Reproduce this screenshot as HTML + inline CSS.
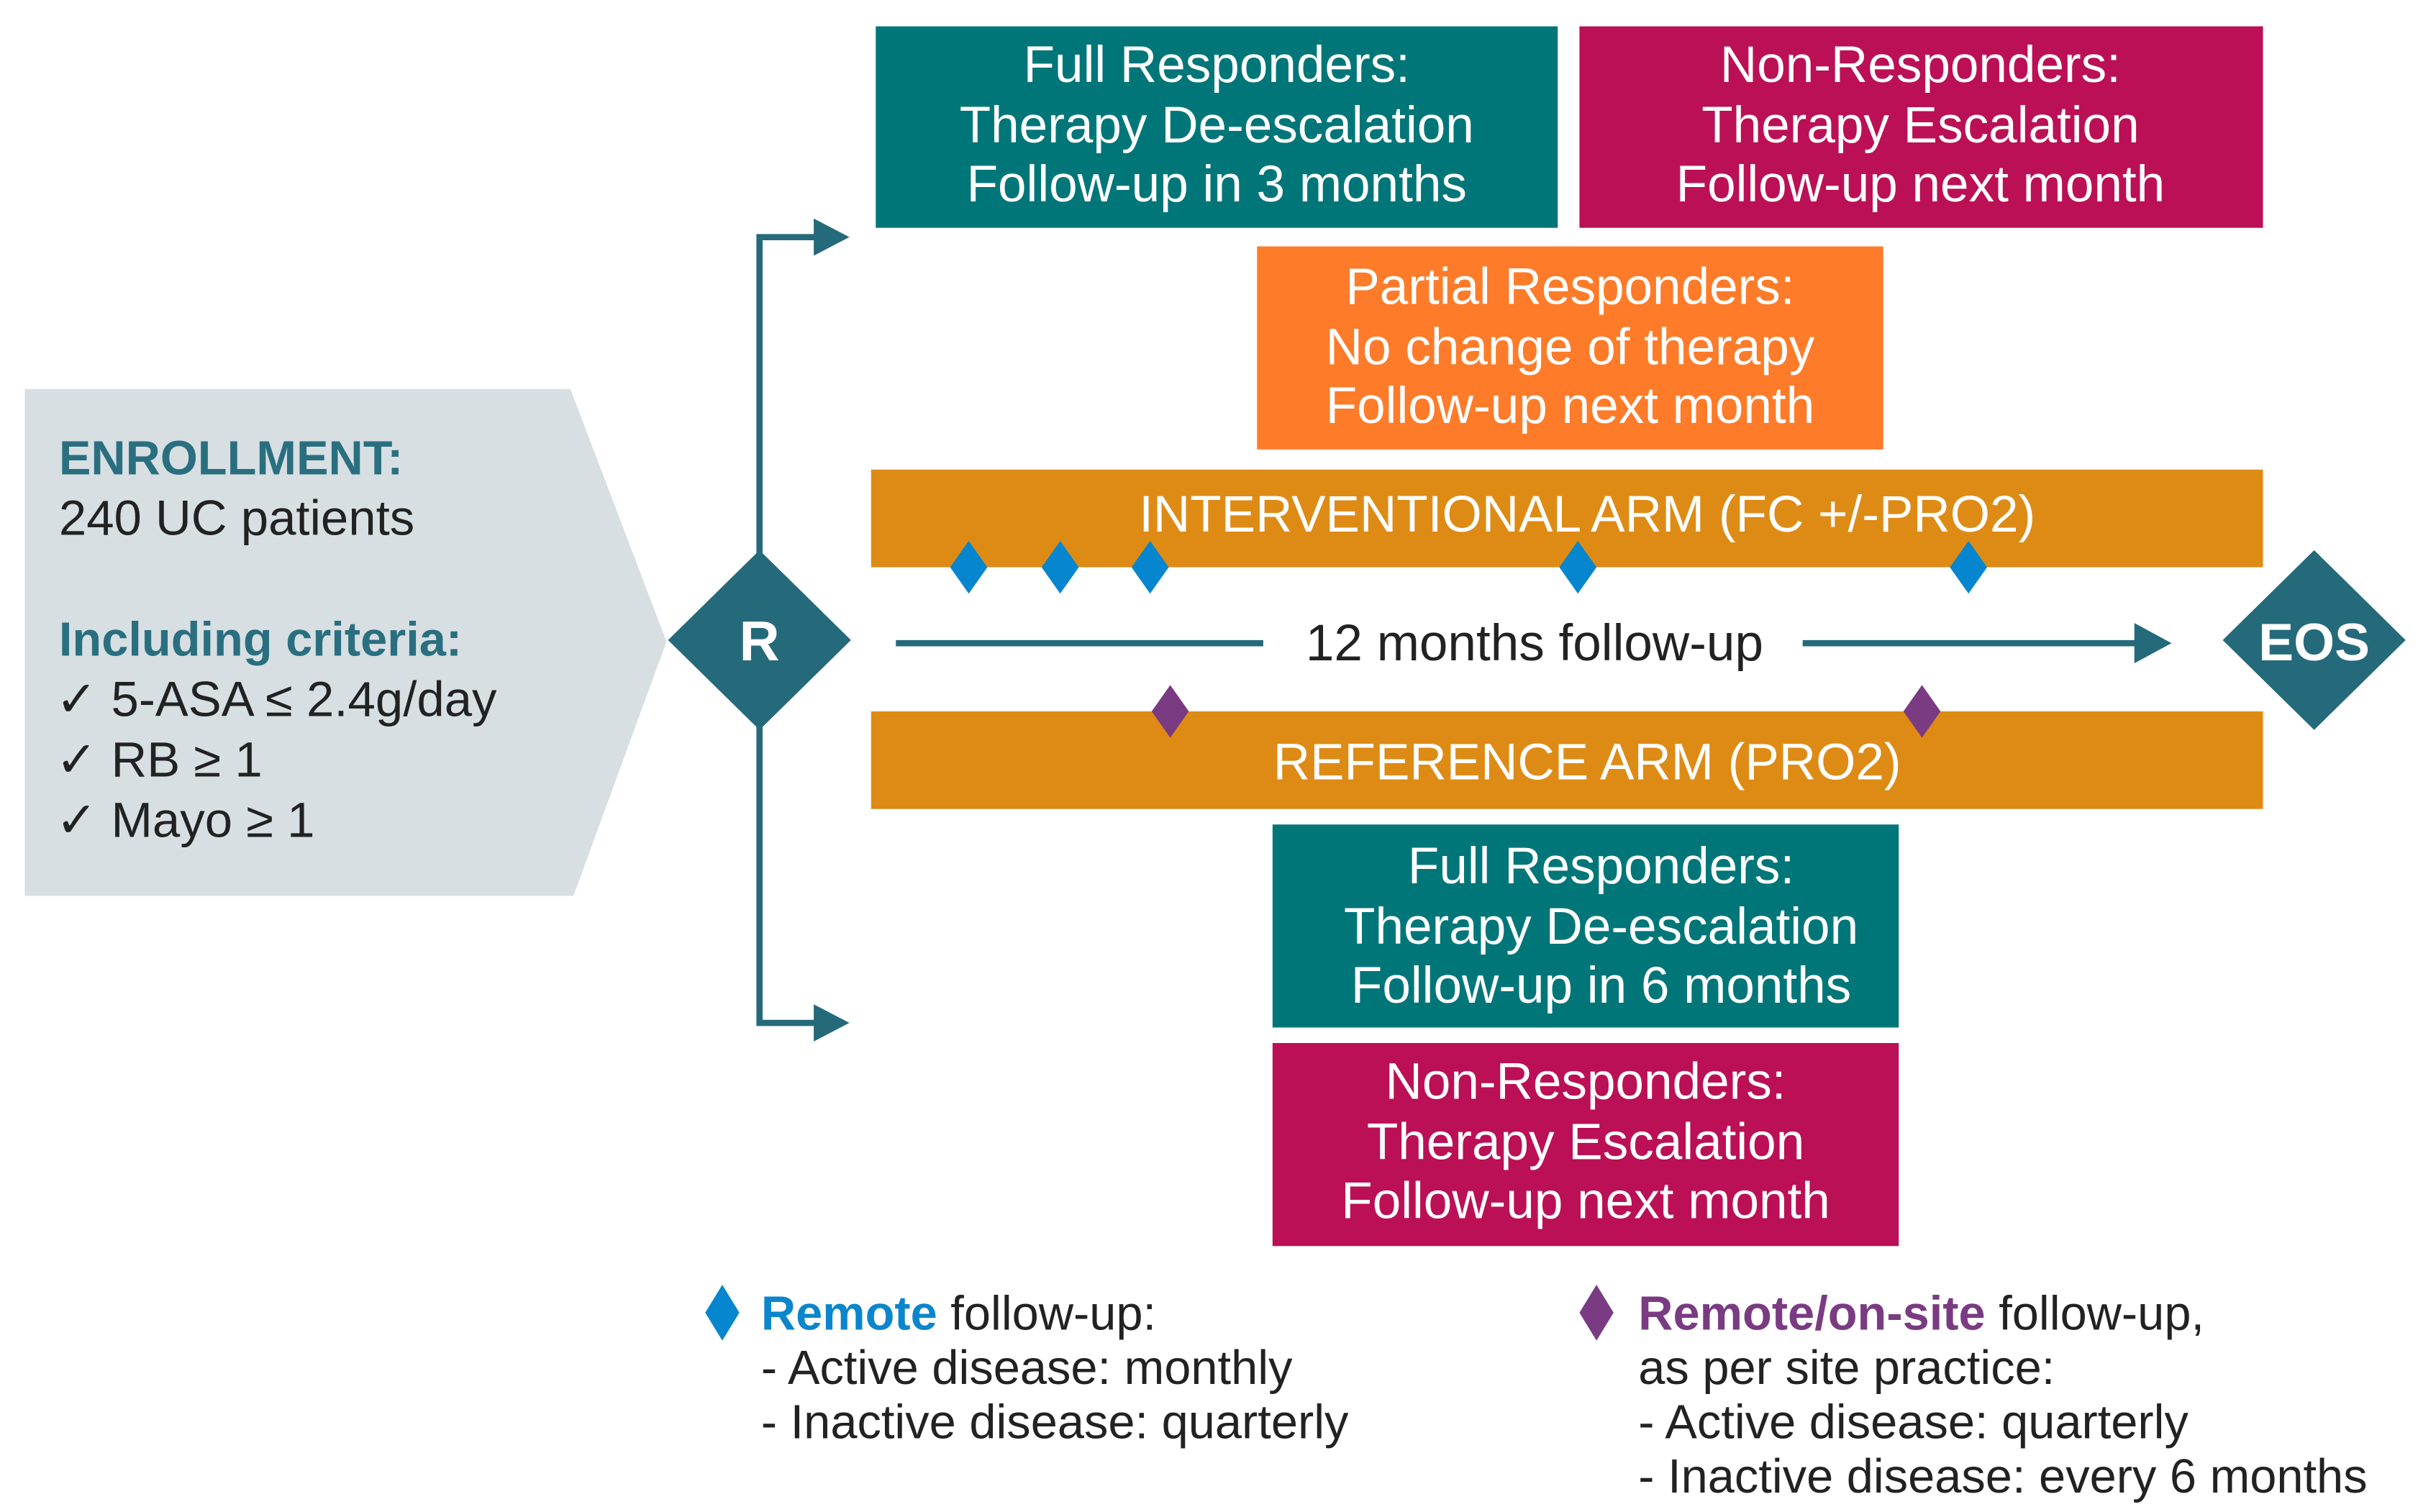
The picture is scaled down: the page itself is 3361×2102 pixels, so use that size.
<!DOCTYPE html>
<html><head><meta charset="utf-8"><style>
html,body{margin:0;padding:0;background:#fff;}
svg{display:block;}
text{font-family:"Liberation Sans",Arial,sans-serif;}
</style></head><body>
<svg width="3361" height="2102" viewBox="0 0 1560 975.6" preserveAspectRatio="none" xmlns="http://www.w3.org/2000/svg">
<rect width="1560" height="975.6" fill="#fff"/>
<!-- enrollment -->
<polygon points="16,251 368,251 430,414 370,578 16,578" fill="#d7dfe3"/>
<text x="38" y="306" font-size="31" font-weight="bold" fill="#2a6f80">ENROLLMENT:</text>
<text x="38" y="345" font-size="32" fill="#222">240 UC patients</text>
<text x="38" y="423" font-size="31" font-weight="bold" fill="#2a6f80">Including criteria:</text>
<text x="36" y="462" font-size="32" fill="#222">✓ 5-ASA ≤ 2.4g/day</text>
<text x="36" y="501" font-size="32" fill="#222">✓ RB ≥ 1</text>
<text x="36" y="540" font-size="32" fill="#222">✓ Mayo ≥ 1</text>
<!-- branch lines -->
<polyline points="529,153 490,153 490,660 529,660" fill="none" stroke="#256a7b" stroke-width="4"/>
<polygon points="525,141 548,153 525,165" fill="#256a7b"/>
<polygon points="525,648 548,660 525,672" fill="#256a7b"/>
<!-- R diamond -->
<polygon points="490,355 549,413 490,471 431,413" fill="#256a7b"/>
<text x="490" y="426" font-size="36" font-weight="bold" fill="#fff" text-anchor="middle">R</text>
<!-- top boxes -->
<rect x="565" y="17" width="440" height="130" fill="#007679"/>
<g font-size="33" fill="#fff" text-anchor="middle">
<text x="785" y="53">Full Responders:</text>
<text x="785" y="92">Therapy De-escalation</text>
<text x="785" y="130">Follow-up in 3 months</text>
</g>
<rect x="1019" y="17" width="441" height="130" fill="#bb1055"/>
<g font-size="33" fill="#fff" text-anchor="middle">
<text x="1239" y="53">Non-Responders:</text>
<text x="1239" y="92">Therapy Escalation</text>
<text x="1239" y="130">Follow-up next month</text>
</g>
<rect x="811" y="159" width="404" height="131" fill="#fe7b29"/>
<g font-size="33" fill="#fff" text-anchor="middle">
<text x="1013" y="196">Partial Responders:</text>
<text x="1013" y="235">No change of therapy</text>
<text x="1013" y="273">Follow-up next month</text>
</g>
<!-- interventional -->
<rect x="562" y="303" width="898" height="63" fill="#de8b15"/>
<text x="1024" y="343" font-size="33" fill="#fff" text-anchor="middle">INTERVENTIONAL ARM (FC +/-PRO2)</text>
<g fill="#0586cf">
<polygon points="625,349 637,366 625,383 613,366"/>
<polygon points="684,349 696,366 684,383 672,366"/>
<polygon points="742,349 754,366 742,383 730,366"/>
<polygon points="1018,349 1030,366 1018,383 1006,366"/>
<polygon points="1270,349 1282,366 1270,383 1258,366"/>
</g>
<!-- timeline -->
<line x1="578" y1="415" x2="815" y2="415" stroke="#256a7b" stroke-width="4"/>
<line x1="1163" y1="415" x2="1382" y2="415" stroke="#256a7b" stroke-width="4"/>
<polygon points="1377,402 1401,415 1377,428" fill="#256a7b"/>
<text x="990" y="426" font-size="33" fill="#222" text-anchor="middle">12 months follow-up</text>
<polygon points="1493,355 1552,413 1493,471 1434,413" fill="#256a7b"/>
<text x="1493" y="426" font-size="34" font-weight="bold" fill="#fff" text-anchor="middle">EOS</text>
<!-- reference -->
<rect x="562" y="459" width="898" height="63" fill="#de8b15"/>
<text x="1024" y="503" font-size="33" fill="#fff" text-anchor="middle">REFERENCE ARM (PRO2)</text>
<g fill="#7a3b82">
<polygon points="755,442 767,459 755,476 743,459"/>
<polygon points="1240,442 1252,459 1240,476 1228,459"/>
</g>
<!-- bottom boxes -->
<rect x="821" y="532" width="404" height="131" fill="#007679"/>
<g font-size="33" fill="#fff" text-anchor="middle">
<text x="1033" y="570">Full Responders:</text>
<text x="1033" y="609">Therapy De-escalation</text>
<text x="1033" y="647">Follow-up in 6 months</text>
</g>
<rect x="821" y="673" width="404" height="131" fill="#bb1055"/>
<g font-size="33" fill="#fff" text-anchor="middle">
<text x="1023" y="709">Non-Responders:</text>
<text x="1023" y="748">Therapy Escalation</text>
<text x="1023" y="786">Follow-up next month</text>
</g>
<!-- legend -->
<polygon points="466,829 477,847 466,865 455,847" fill="#0586cf"/>
<text x="491" y="858" font-size="31" fill="#222"><tspan font-weight="bold" fill="#0b86cc">Remote</tspan> follow-up:</text>
<text x="491" y="893" font-size="31" fill="#222">- Active disease: monthly</text>
<text x="491" y="928" font-size="31" fill="#222">- Inactive disease: quarterly</text>
<polygon points="1030,829 1041,847 1030,865 1019,847" fill="#7a3b82"/>
<text x="1057" y="858" font-size="31" fill="#222"><tspan font-weight="bold" fill="#7a3b82">Remote/on-site</tspan> follow-up,</text>
<text x="1057" y="893" font-size="31" fill="#222">as per site practice:</text>
<text x="1057" y="928" font-size="31" fill="#222">- Active disease: quarterly</text>
<text x="1057" y="963" font-size="31" fill="#222">- Inactive disease: every 6 months</text>
</svg>
</body></html>
